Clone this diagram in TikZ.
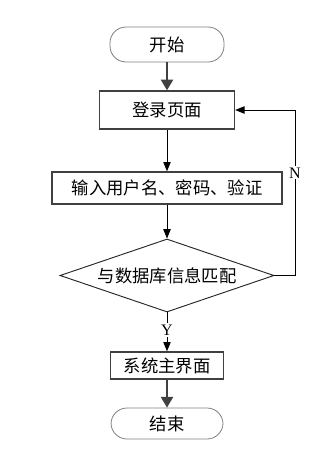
\documentclass[tikz,border=0pt]{standalone}
\usepackage{fontspec}
\setmainfont{Liberation Serif}
\newfontfamily\cjk{Noto Sans CJK SC}
\usetikzlibrary{arrows.meta,shapes.geometric}
\begin{document}
\begin{tikzpicture}[x=0.75pt,y=-0.75pt,
  term/.style={draw=black!50, line width=0.6pt, rounded corners=12pt, inner sep=0pt, font=\cjk\fontsize{13}{15}\selectfont},
  proc/.style={draw=black!75, line width=1pt, inner sep=0pt, font=\cjk\fontsize{13}{15}\selectfont},
  dec/.style={draw=black!85, line width=0.7pt, shape=diamond, shape aspect=2.93, inner sep=0pt, font=\cjk\fontsize{13}{15}\selectfont},
  thin/.style={draw=black, line width=0.7pt, -{Triangle[length=7pt,width=5.5pt]}},
  thick/.style={draw=black!75, line width=1.5pt, -{Triangle[length=8pt,width=9pt]}},
  lab/.style={fill=white, inner sep=1pt, font=\fontsize{12}{14}\selectfont}
]
\useasboundingbox (0,0) rectangle (335,460);
\node[term, minimum width=85.5pt, minimum height=26.25pt] (start) at (167,44.5) {开始};
\node[proc, minimum width=101.25pt, minimum height=28.5pt] (login) at (167,110) {登录页面};
\node[proc, minimum width=172.5pt, minimum height=24pt] (input) at (167,188) {输入用户名、密码、验证};
\node[dec, minimum width=160.5pt, minimum height=54.75pt] (match) at (167,275.5) {与数据库信息匹配};
\node[proc, minimum width=84.75pt, minimum height=20.25pt] (sys) at (167,365.5) {系统主界面};
\node[term, minimum width=84pt, minimum height=23.25pt] (end) at (167,423.5) {结束};
\coordinate (rb) at (295,275.5);
\coordinate (rt) at (295,110);
\draw[thick] (start) -- (login);
\draw[thin] (login) -- (input);
\draw[thin] (input) -- (match);
\draw[thin] (match) -- node[lab, pos=0.45] (y) {Y} (sys);
\draw[thick] (sys) -- (end);
\draw[thin] (match.east) -- (rb) -- node[lab, pos=0.62] (n) {N} (rt) -- (login.east);
\end{tikzpicture}
\end{document}
